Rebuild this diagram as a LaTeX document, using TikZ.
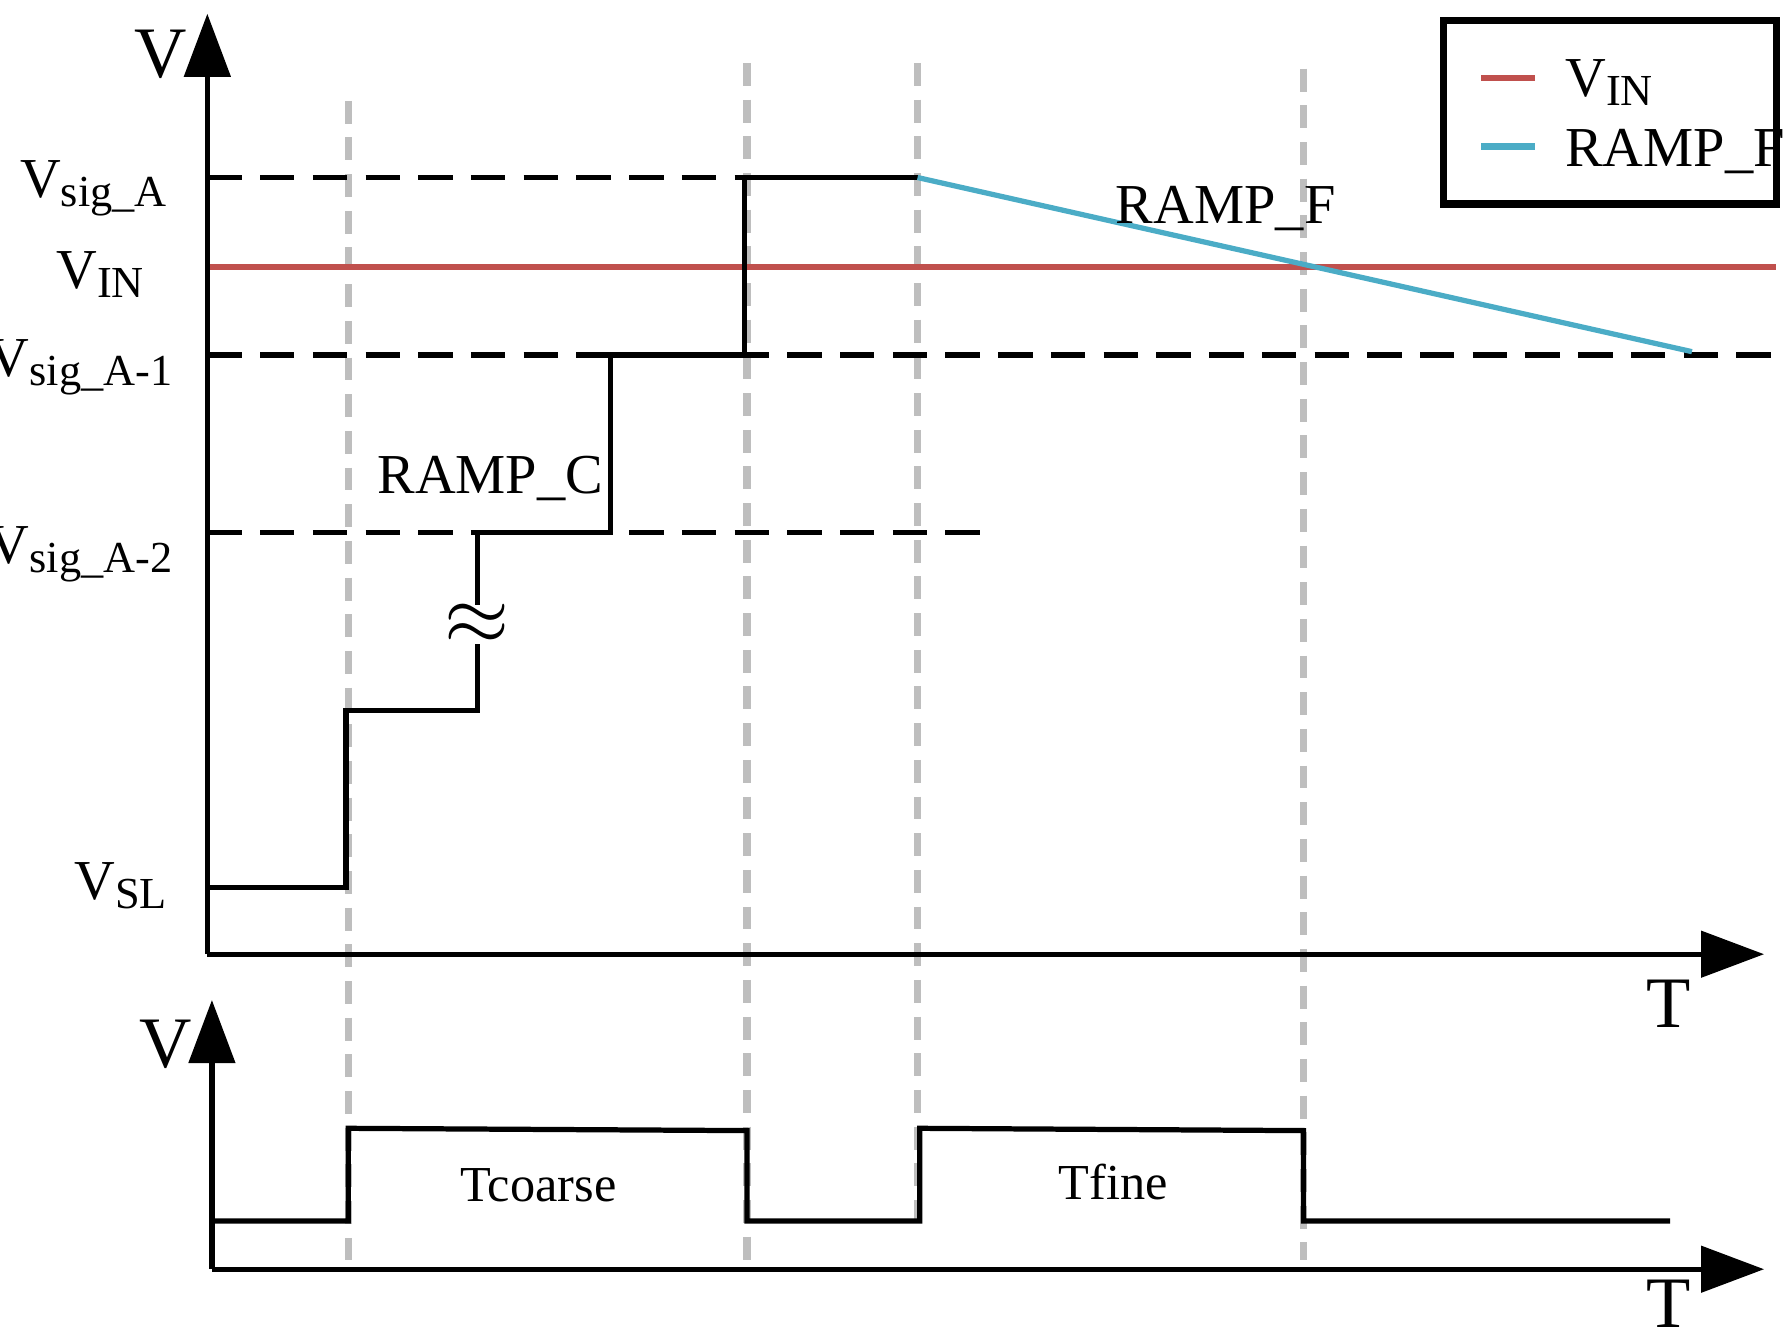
\documentclass[tikz,border=0pt]{standalone}
\usepackage{fontspec}
\setmainfont{Liberation Serif}
\usetikzlibrary{arrows.meta}
\definecolor{rd}{RGB}{192,80,77}
\definecolor{bl}{RGB}{75,172,198}
\definecolor{gr}{RGB}{190,190,190}
\newcommand{\mysub}[1]{\raisebox{-0.35ex}{\fontsize{11pt}{12pt}\selectfont #1}}
\begin{document}
\begin{tikzpicture}[x=0.01cm,y=-0.01cm,
  ax/.style={line width=1.3pt,-{Triangle[length=0.55cm,width=0.4cm]}},
  sig/.style={line width=1.3pt},
  hd/.style={line width=1.3pt,dash pattern=on 0.3cm off 0.16cm},
  vd/.style={gr,line width=1.8pt,dash pattern=on 0.2cm off 0.12cm},
  lbl/.style={font=\fontsize{14pt}{16pt}\selectfont},
  big/.style={font=\fontsize{18pt}{20pt}\selectfont},
  sub/.style={font=\fontsize{12.5pt}{14pt}\selectfont}]
\useasboundingbox (0,0) rectangle (1560,1168);
% gray verticals
\draw[vd] (304,88) -- (304,1100);
\draw[vd] (652,55) -- (652,1100);
\draw[vd] (801,55) -- (801,1070);
\draw[vd] (1138,60) -- (1138,1100);
% dashed levels
\draw[hd] (181,155) -- (650,155);
\draw[hd] (181,310) -- (1555,310);
\draw[hd] (181,465) -- (870,465);
% VIN
\draw[rd,line width=1.3pt] (181,233) -- (1550,233);
% steps
\draw[sig] (181,775) -- (302,775) -- (302,620) -- (417,620) -- (417,562);
\draw[sig] (417,528) -- (417,465) -- (533,465) -- (533,310) -- (650,310) -- (650,155) -- (801,155);
\node[font=\fontsize{22pt}{22pt}\selectfont] (brk) at (416,545) {$\approx$};
\draw[bl,line width=1.3pt] (801,155) -- (1477,307);
% axes
\coordinate (o1) at (181,833);
\draw[ax] (o1) -- (181,12);
\draw[ax] (o1) -- (1540,833);
\coordinate (o2) at (185,1108);
\draw[ax] (o2) -- (185,873);
\draw[ax] (o2) -- (1540,1108);
% pulse
\draw[sig] (185,1066) -- (304,1066) -- (304,985) -- (652,987) -- (652,1066) -- (803,1066) -- (803,985) -- (1138,987) -- (1138,1066) -- (1458,1066);
% labels
\node[big] (v1) at (140,47) {V};
\node[big] (t1) at (1457,876) {T};
\node[big] (v2) at (145,912) {V};
\node[big] (t2) at (1457,1138) {T};
\node[lbl,anchor=base east] (a0) at (158,172) {V\mysub{sig\_A}};
\node[lbl,anchor=base east] (a1) at (138,252) {V\mysub{IN}};
\node[lbl,anchor=base east] (a2) at (163,329) {V\mysub{sig\_A-1}};
\node[lbl,anchor=base east] (a3) at (163,492) {V\mysub{sig\_A-2}};
\node[lbl,anchor=base east] (a4) at (158,785) {V\mysub{SL}};
\node[lbl] (rc) at (428,418) {RAMP\_C};
\node[lbl] (rf) at (1070,182) {RAMP\_F};
\node[sub] (tc) at (470,1035) {Tcoarse};
\node[sub] (tf) at (972,1032) {Tfine};
% legend
\draw[line width=1.8pt] (1260,18) rectangle (1551,178);
\draw[rd,line width=1.6pt] (1293,68) -- (1340,68);
\draw[bl,line width=1.6pt] (1293,128) -- (1340,128);
\node[lbl,anchor=base west] (l1) at (1354,84) {V\mysub{IN}};
\node[lbl,anchor=base west] (l2) at (1354,145) {RAMP\_F};
\end{tikzpicture}
\end{document}
